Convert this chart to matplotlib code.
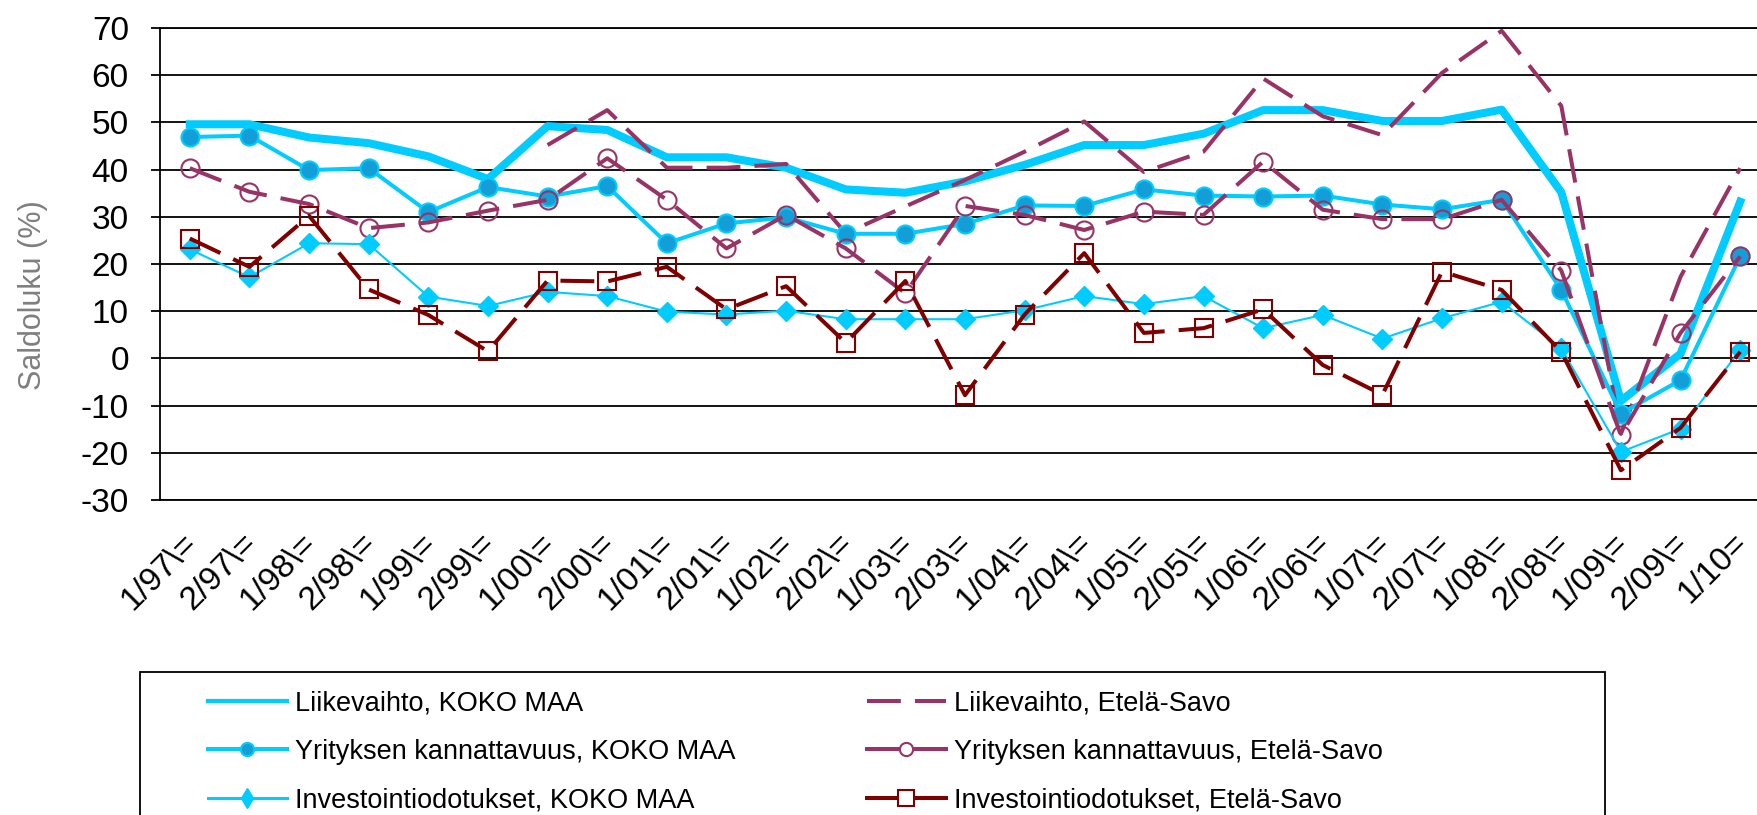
import matplotlib.pyplot as plt
from matplotlib.lines import Line2D
from matplotlib.patches import Rectangle
from matplotlib.transforms import ScaledTranslation

plt.rcParams['font.family'] = ['Liberation Sans', 'DejaVu Sans']
plt.rcParams['axes.unicode_minus'] = False

# kvartaalit / puolivuodet
periods = ["1/97\\=", "2/97\\=", "1/98\\=", "2/98\\=", "1/99\\=", "2/99\\=",
           "1/00\\=", "2/00\\=", "1/01\\=", "2/01\\=", "1/02\\=", "2/02\\=",
           "1/03\\=", "2/03\\=", "1/04\\=", "2/04\\=", "1/05\\=", "2/05\\=",
           "1/06\\=", "2/06\\=", "1/07\\=", "2/07\\=", "1/08\\=", "2/08\\=",
           "1/09\\=", "2/09\\=", "1/10="]

liikevaihto_koko = [49.6, 49.6, 46.8, 45.6, 42.8, 38.0, 49.2, 48.4, 42.6, 42.6,
                    40.4, 35.8, 35.1, 37.5, 41.0, 45.2, 45.2, 47.6, 52.6, 52.6,
                    50.3, 50.3, 52.7, 35.2, -9.0, 1.0, 33.2]
kannattavuus_koko = [46.9, 47.2, 39.9, 40.3, 31.0, 36.3, 34.3, 36.5, 24.4, 28.6,
                     29.9, 26.4, 26.4, 28.5, 32.4, 32.3, 35.8, 34.5, 34.3, 34.5,
                     32.6, 31.6, 33.6, 14.5, -11.7, -4.6, 21.6]
investointi_koko = [23.1, 17.2, 24.4, 24.2, 13.1, 11.1, 14.1, 13.2, 9.9, 9.3,
                    10.1, 8.3, 8.3, 8.3, 10.2, 13.2, 11.5, 13.2, 6.4, 9.2,
                    4.2, 8.5, 12.0, 2.1, -19.8, -14.9, 1.8]

liikevaihto_es = [None, None, None, None, None, None, 45.2, 52.6, 40.4, 40.4,
                  41.2, 26.5, 32.2, 37.8, 43.8, 50.2, 39.5, 43.8, 59.3, 51.3,
                  47.3, 60.5, 69.4, 53.5, -16.0, 17.3, 40.3]
kannattavuus_es = [40.3, 35.3, 32.7, 27.6, 28.8, 31.3, 33.6, 42.4, 33.6, 23.3,
                   30.4, 23.3, 13.8, 32.3, 30.4, 27.2, 31.1, 30.4, 41.7, 31.5,
                   29.5, 29.5, 33.6, 18.6, -16.3, 5.4, 21.6]
investointi_es = [25.4, 19.4, 30.2, 14.6, 9.2, 1.5, 16.5, 16.3, 19.4, 10.4,
                  15.3, 3.3, 16.4, -7.8, 9.3, 22.3, 5.4, 6.4, 10.4, -1.4,
                  -7.7, 18.4, 14.5, 1.4, -23.7, -14.7, 1.4]

cyan = "#00CCFF"
blue_fill = "#149ED8"
purple = "#993366"
darkred = "#800000"
dash = (8.4, 3.5)

fig = plt.figure(figsize=(17.57, 8.15), dpi=100)
ax = fig.add_axes([160 / 1757, 1 - 500 / 815, 1610 / 1757, 472 / 815])

x = list(range(len(periods)))
xs_es = [i for i, v in zip(x, liikevaihto_es) if v is not None]
ys_es = [v for v in liikevaihto_es if v is not None]

ax.plot(x, liikevaihto_koko, color=cyan, lw=5.8, zorder=3)
ax.plot(xs_es, ys_es, color=purple, lw=2.9, dashes=dash, zorder=4)
ax.plot(x, kannattavuus_koko, color=cyan, lw=2.9, marker="o", ms=13,
        mfc=blue_fill, mec=cyan, mew=1.5, zorder=5)
ax.plot(x, kannattavuus_es, color=purple, lw=2.9, dashes=dash, marker="o", ms=13,
        mfc="none", mec=purple, mew=1.5, zorder=6)
ax.plot(x, investointi_koko, color=cyan, lw=1.5, marker="D", ms=10,
        mfc=cyan, mec=cyan, zorder=7)
ax.plot(x, investointi_es, color=darkred, lw=2.9, dashes=dash, marker="s", ms=13,
        mfc="none", mec=darkred, mew=1.5, zorder=8)

ax.set_xlim(-0.5, len(periods) - 0.5)
ax.set_ylim(-30, 70)
ax.set_yticks(range(-30, 71, 10))
ax.yaxis.grid(True, color="black", lw=1.3)
ax.set_axisbelow(True)
ax.spines["right"].set_visible(False)
for s in ["left", "bottom", "top"]:
    ax.spines[s].set_linewidth(1.3)
    ax.spines[s].set_color("black")

ax.set_xticks(x)
ax.set_xticklabels(periods, rotation=45, ha="right", va="top",
                   rotation_mode="anchor", fontsize=24)
ax.tick_params(axis="x", length=0, pad=20)
ax.tick_params(axis="y", direction="out", length=6.5, width=1.3, pad=16,
               labelsize=24)
shift = ScaledTranslation(-8 / 100, 0, fig.dpi_scale_trans)
for lab in ax.get_xticklabels():
    lab.set_transform(lab.get_transform() + shift)

fig.text(33 / 1757, 1 - 295 / 815, "Saldoluku (%)", rotation=90, color="#7F7F7F",
         fontsize=22, ha="center", va="center")

# selite kahtena sarakkeena
h_koko = [
    Line2D([], [], color=cyan, lw=3.0),
    Line2D([], [], color=cyan, lw=2.9, marker="o", ms=9.5, mfc=blue_fill, mec=cyan, mew=1.5),
    Line2D([], [], color=cyan, lw=2.2, marker="d", ms=10, mfc=cyan, mec=cyan),
]
h_es = [
    Line2D([], [], color=purple, lw=2.9, dashes=dash),
    Line2D([], [], color=purple, lw=2.9, marker="o", ms=9.5, mfc="white", mec=purple, mew=1.5),
    Line2D([], [], color=darkred, lw=2.9, marker="s", ms=11, mfc="white", mec=darkred, mew=1.5),
]
l_koko = ["Liikevaihto, KOKO MAA", "Yrityksen kannattavuus, KOKO MAA",
          "Investointiodotukset, KOKO MAA"]
l_es = ["Liikevaihto, Etelä-Savo", "Yrityksen kannattavuus, Etelä-Savo",
        "Investointiodotukset, Etelä-Savo"]

leg_kw = dict(loc="upper left", frameon=False, fontsize=19.5, borderpad=0,
              borderaxespad=0, handlelength=2.9, handletextpad=0.3,
              labelspacing=0.84)
fig.legend(h_koko, l_koko, bbox_to_anchor=(208 / 1757, 1 - 690 / 815), **leg_kw)
fig.legend(h_es, l_es, bbox_to_anchor=(867 / 1757, 1 - 690 / 815), **leg_kw)

fig.add_artist(Rectangle((140 / 1757, -0.1), 1465 / 1757, 0.1 + 1 - 672 / 815,
                         transform=fig.transFigure, fill=False, ec="black", lw=1.3))

plt.savefig("out.png", dpi=100)
